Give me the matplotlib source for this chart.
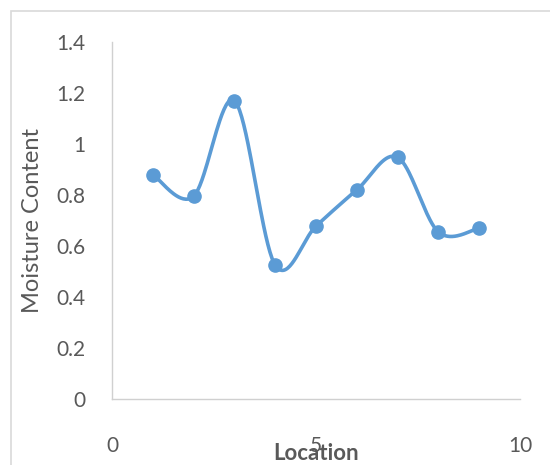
import numpy as np
import matplotlib as mpl
mpl.use('Agg')
import matplotlib.pyplot as plt
from matplotlib.patches import Rectangle

# data
location = [1, 2, 3, 4, 5, 6, 7, 8, 9]
moisture = [0.88, 0.795, 1.17, 0.525, 0.678, 0.82, 0.948, 0.655, 0.67]
y_ticks = [0, 0.2, 0.4, 0.6, 0.8, 1, 1.2, 1.4]
x_ticks = [0, 5, 10]

blue = '#5B9BD5'
grey_text = '#595959'
plt.rcParams['font.family'] = ['Lato', 'DejaVu Sans']


def smooth_curve(xs, ys, n=40):
    # Excel-like smoothing: cubic bezier with catmull-rom control points
    xs = np.asarray(xs, float)
    ys = np.asarray(ys, float)
    px = np.concatenate([[xs[0]], xs, [xs[-1]]])
    py = np.concatenate([[ys[0]], ys, [ys[-1]]])
    out_x, out_y = [], []
    t = np.linspace(0, 1, n)
    for i in range(1, len(px) - 2):
        p0 = np.array([px[i], py[i]])
        p3 = np.array([px[i + 1], py[i + 1]])
        c1 = p0 + (np.array([px[i + 1], py[i + 1]]) - np.array([px[i - 1], py[i - 1]])) / 6
        c2 = p3 - (np.array([px[i + 2], py[i + 2]]) - np.array([px[i], py[i]])) / 6
        b = ((1 - t) ** 3)[:, None] * p0 + (3 * (1 - t) ** 2 * t)[:, None] * c1 \
            + (3 * (1 - t) * t ** 2)[:, None] * c2 + (t ** 3)[:, None] * p3
        out_x.extend(b[:, 0])
        out_y.extend(b[:, 1])
    return out_x, out_y


fig = plt.figure(figsize=(5.5, 4.65), dpi=100)
ax = fig.add_axes([112 / 550, 1 - 399 / 465, (520 - 112) / 550, (399 - 42) / 465])

sx, sy = smooth_curve(location, moisture)
ax.plot(sx, sy, color=blue, lw=2.6, solid_capstyle='round', zorder=2)
ax.plot(location, moisture, 'o', color=blue, ms=9.5, zorder=3)

ax.set_xlim(0, 10)
ax.set_ylim(0, 1.4)
ax.set_xticks(x_ticks)
ax.set_yticks(y_ticks)
ax.set_yticklabels(['%g' % v for v in y_ticks])
ax.tick_params(length=0, labelsize=15, colors=grey_text)
ax.tick_params(axis='x', pad=27)
ax.tick_params(axis='y', pad=19)

for s in ['top', 'right']:
    ax.spines[s].set_visible(False)
for s in ['left', 'bottom']:
    ax.spines[s].set_color('#D0D0D0')
    ax.spines[s].set_linewidth(1.0)

ax.set_xlabel('Location', fontsize=16, fontweight='bold', color=grey_text, labelpad=-10)
ax.set_ylabel('Moisture Content', fontsize=17, color=grey_text, labelpad=10)

# outer chart border
fig.patches.append(Rectangle((11 / 550, -0.05), 1.1, 1 - 11 / 465 + 0.05, transform=fig.transFigure,
                             fill=False, edgecolor='#D9D9D9', lw=1.2))

plt.savefig('out.png')
